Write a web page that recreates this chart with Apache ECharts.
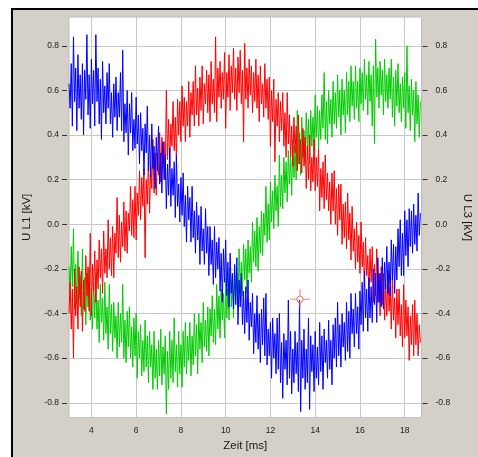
<!DOCTYPE html>
<html>
<head>
<meta charset="utf-8">
<script src="https://cdn.jsdelivr.net/npm/echarts@6/dist/echarts.min.js"></script>
<style>
  html, body { margin: 0; padding: 0; background: #fff; overflow: hidden; }
  #frame { position: absolute; left: 11px; top: 8px; width: 465px; height: 447px; border-left: 2px solid #000; border-top: 2px solid #000; background: #d4d0c8; }
  #chart { position: absolute; left: 0; top: 0; width: 478px; height: 457px; }
</style>
</head>
<body>
<div id="frame"></div>
<div id="chart"></div>
<script>
// one sample every 0.05 ms, first one at 3.0 ms
const startMs = 3.0
const stepMs = 0.05

const blueValues = [
  0.63, 0.52, 0.72, 0.44, 0.84, 0.55, 0.70, 0.42, 0.76, 0.52,
  0.67, 0.47, 0.72, 0.40, 0.69, 0.56, 0.85, 0.49, 0.67, 0.43,
  0.74, 0.54, 0.69, 0.44, 0.85, 0.55, 0.70, 0.45, 0.65, 0.38,
  0.73, 0.50, 0.62, 0.45, 0.68, 0.52, 0.72, 0.45, 0.59, 0.39,
  0.63, 0.48, 0.66, 0.42, 0.59, 0.48, 0.68, 0.42, 0.78, 0.37,
  0.54, 0.41, 0.60, 0.31, 0.54, 0.41, 0.59, 0.33, 0.47, 0.34,
  0.57, 0.36, 0.49, 0.27, 0.50, 0.33, 0.43, 0.22, 0.45, 0.32,
  0.53, 0.24, 0.40, 0.21, 0.45, 0.25, 0.35, 0.16, 0.39, 0.24,
  0.44, 0.18, 0.32, 0.14, 0.37, 0.20, 0.31, 0.07, 0.27, 0.13,
  0.34, 0.08, 0.25, 0.13, 0.28, 0.03, 0.31, 0.08, 0.18, 0.01,
  0.21, 0.04, 0.23, -0.01, 0.13, -0.08, 0.17, 0.02, 0.12, -0.08,
  0.17, -0.06, 0.06, -0.13, 0.10, -0.07, 0.04, -0.18, 0.08, -0.12,
  -0.02, -0.18, 0.07, -0.13, -0.01, -0.23, -0.01, -0.18, -0.07, -0.27,
  -0.01, -0.24, -0.08, -0.20, -0.06, -0.30, -0.13, -0.35, -0.11, -0.26,
  -0.07, -0.32, -0.17, -0.37, -0.13, -0.31, -0.22, -0.38, -0.18, -0.36,
  -0.15, -0.45, -0.25, -0.37, -0.22, -0.45, -0.30, -0.49, -0.28, -0.44,
  -0.25, -0.52, -0.35, -0.46, -0.31, -0.58, -0.40, -0.53, -0.32, -0.56,
  -0.40, -0.62, -0.38, -0.54, -0.33, -0.59, -0.31, -0.63, -0.47, -0.59,
  -0.44, -0.69, -0.42, -0.60, -0.49, -0.67, -0.42, -0.65, -0.40, -0.71,
  -0.53, -0.78, -0.49, -0.65, -0.52, -0.72, -0.34, -0.69, -0.48, -0.76,
  -0.56, -0.71, -0.48, -0.67, -0.53, -0.75, -0.34, -0.84, -0.52, -0.69,
  -0.47, -0.74, -0.56, -0.71, -0.42, -0.83, -0.50, -0.66, -0.54, -0.75,
  -0.48, -0.69, -0.55, -0.72, -0.44, -0.66, -0.50, -0.74, -0.47, -0.62,
  -0.52, -0.69, -0.43, -0.65, -0.52, -0.72, -0.45, -0.60, -0.42, -0.64,
  -0.35, -0.59, -0.45, -0.64, -0.40, -0.55, -0.44, -0.61, -0.35, -0.57,
  -0.39, -0.60, -0.31, -0.49, -0.38, -0.55, -0.31, -0.49, -0.37, -0.56,
  -0.30, -0.45, -0.26, -0.48, -0.21, -0.42, -0.29, -0.48, -0.24, -0.42,
  -0.28, -0.44, -0.20, -0.36, -0.22, -0.44, -0.15, -0.35, -0.22, -0.37,
  -0.15, -0.38, -0.17, -0.29, -0.10, -0.31, -0.17, -0.32, -0.07, -0.25,
  -0.09, -0.31, -0.10, -0.25, -0.02, -0.19, 0.02, -0.23, -0.04, -0.23,
  0.06, -0.14, 0.02, -0.19, 0.07, -0.10, 0.06, -0.13, 0.09, -0.09,
  0.04, -0.12, 0.14, -0.05, 0.05
]

const redValues = [
  -0.40, -0.26, -0.47, -0.29, -0.60, -0.20, -0.41, -0.28, -0.47, -0.19,
  -0.37, -0.21, -0.48, -0.25, -0.39, -0.14, -0.32, -0.19, -0.39, -0.04,
  -0.41, -0.18, -0.30, -0.12, -0.35, -0.16, -0.29, -0.07, -0.24, -0.11,
  -0.31, -0.03, -0.22, -0.11, -0.24, 0.02, -0.20, -0.06, -0.23, -0.01,
  -0.24, -0.04, -0.13, 0.12, -0.15, 0.04, -0.17, 0.01, -0.10, 0.10,
  -0.12, 0.06, -0.13, 0.05, -0.03, 0.17, -0.05, 0.11, -0.06, 0.17,
  -0.07, 0.14, 0.04, 0.24, 0.02, 0.21, 0.08, 0.25, -0.15, 0.20,
  0.09, 0.30, 0.05, 0.26, 0.16, 0.38, 0.14, 0.32, 0.13, 0.32,
  0.22, 0.41, 0.19, 0.39, 0.27, 0.37, 0.20, 0.60, 0.29, 0.47,
  0.26, 0.45, 0.35, 0.55, 0.33, 0.48, 0.28, 0.56, 0.40, 0.55,
  0.37, 0.62, 0.44, 0.57, 0.37, 0.55, 0.44, 0.64, 0.39, 0.59,
  0.49, 0.64, 0.44, 0.71, 0.49, 0.61, 0.44, 0.66, 0.51, 0.71,
  0.45, 0.63, 0.54, 0.69, 0.50, 0.67, 0.46, 0.73, 0.54, 0.65,
  0.50, 0.84, 0.46, 0.70, 0.57, 0.73, 0.52, 0.68, 0.56, 0.77,
  0.43, 0.68, 0.57, 0.76, 0.51, 0.71, 0.59, 0.79, 0.56, 0.70,
  0.51, 0.75, 0.59, 0.78, 0.54, 0.69, 0.37, 0.81, 0.56, 0.70,
  0.52, 0.74, 0.58, 0.71, 0.50, 0.68, 0.55, 0.74, 0.52, 0.67,
  0.46, 0.71, 0.54, 0.63, 0.48, 0.72, 0.52, 0.65, 0.47, 0.66,
  0.35, 0.60, 0.46, 0.65, 0.28, 0.56, 0.44, 0.59, 0.37, 0.55,
  0.42, 0.59, 0.35, 0.50, 0.30, 0.59, 0.36, 0.49, 0.30, 0.44,
  0.26, 0.48, 0.32, 0.44, 0.24, 0.49, 0.27, 0.38, 0.23, 0.43,
  0.26, 0.39, 0.16, 0.35, 0.20, 0.40, 0.15, 0.30, 0.19, 0.38,
  0.15, 0.30, 0.17, 0.34, 0.06, 0.25, 0.12, 0.28, 0.07, 0.31,
  0.11, 0.23, 0.06, 0.19, 0.00, 0.23, 0.06, 0.24, 0.00, 0.16,
  -0.05, 0.18, 0.02, 0.18, -0.09, 0.09, -0.06, 0.10, -0.11, 0.14,
  -0.07, 0.05, -0.16, 0.08, -0.12, -0.02, -0.20, 0.01, -0.17, -0.05,
  -0.22, 0.01, -0.19, -0.08, -0.28, -0.06, -0.23, -0.14, -0.32, -0.11,
  -0.26, -0.10, -0.35, -0.18, -0.32, -0.11, -0.35, -0.22, -0.41, -0.19,
  -0.36, -0.22, -0.43, -0.27, -0.41, -0.21, -0.39, -0.28, -0.47, -0.24,
  -0.43, -0.33, -0.51, -0.29, -0.45, -0.29, -0.50, -0.36, -0.55, -0.27,
  -0.51, -0.34, -0.50, -0.37, -0.61, -0.41, -0.54, -0.36, -0.59, -0.34,
  -0.54, -0.40, -0.59, -0.45, -0.53
]

const greenValues = [
  -0.19, -0.31, -0.10, -0.28, -0.02, -0.38, -0.18, -0.36, -0.12, -0.33,
  -0.23, -0.41, -0.11, -0.38, -0.24, -0.45, -0.22, -0.37, -0.20, -0.43,
  -0.29, -0.47, -0.26, -0.42, -0.22, -0.47, -0.34, -0.53, -0.27, -0.44,
  -0.33, -0.52, -0.26, -0.49, -0.37, -0.56, -0.27, -0.49, -0.36, -0.57,
  -0.35, -0.51, -0.41, -0.60, -0.35, -0.55, -0.40, -0.53, -0.27, -0.60,
  -0.43, -0.62, -0.39, -0.55, -0.37, -0.60, -0.46, -0.64, -0.42, -0.59,
  -0.40, -0.69, -0.48, -0.60, -0.45, -0.68, -0.52, -0.66, -0.43, -0.64,
  -0.50, -0.71, -0.48, -0.64, -0.54, -0.74, -0.48, -0.69, -0.56, -0.74,
  -0.52, -0.68, -0.47, -0.72, -0.55, -0.67, -0.50, -0.85, -0.57, -0.74,
  -0.48, -0.69, -0.52, -0.71, -0.42, -0.66, -0.54, -0.73, -0.48, -0.67,
  -0.54, -0.73, -0.48, -0.64, -0.44, -0.67, -0.50, -0.61, -0.44, -0.68,
  -0.50, -0.63, -0.40, -0.59, -0.45, -0.67, -0.40, -0.56, -0.44, -0.62,
  -0.35, -0.55, -0.43, -0.57, -0.37, -0.59, -0.38, -0.50, -0.32, -0.53,
  -0.38, -0.54, -0.27, -0.47, -0.32, -0.51, -0.29, -0.43, -0.31, -0.51,
  -0.24, -0.42, -0.29, -0.43, -0.19, -0.37, -0.24, -0.42, -0.19, -0.34,
  -0.22, -0.37, -0.11, -0.31, -0.17, -0.32, -0.09, -0.25, -0.11, -0.31,
  -0.07, -0.22, -0.10, -0.26, 0.01, -0.17, -0.03, -0.19, 0.03, -0.21,
  -0.01, -0.13, 0.06, -0.14, 0.05, -0.05, 0.17, -0.08, 0.09, -0.07,
  0.19, 0.01, 0.15, -0.02, 0.22, 0.06, 0.17, -0.01, 0.31, 0.08,
  0.22, 0.07, 0.30, 0.14, 0.28, 0.10, 0.33, 0.18, 0.30, 0.13,
  0.38, 0.21, 0.35, 0.20, 0.51, 0.27, 0.41, 0.22, 0.48, 0.30,
  0.42, 0.27, 0.50, 0.34, 0.47, 0.27, 0.51, 0.35, 0.48, 0.33,
  0.58, 0.39, 0.53, 0.34, 0.51, 0.38, 0.58, 0.43, 0.68, 0.38,
  0.55, 0.36, 0.60, 0.45, 0.56, 0.39, 0.64, 0.45, 0.59, 0.43,
  0.67, 0.48, 0.60, 0.40, 0.65, 0.49, 0.60, 0.41, 0.68, 0.49,
  0.64, 0.46, 0.71, 0.53, 0.64, 0.47, 0.71, 0.52, 0.64, 0.46,
  0.70, 0.54, 0.68, 0.51, 0.74, 0.56, 0.67, 0.49, 0.73, 0.55,
  0.67, 0.44, 0.71, 0.36, 0.83, 0.57, 0.70, 0.52, 0.73, 0.58,
  0.69, 0.49, 0.74, 0.55, 0.67, 0.52, 0.70, 0.56, 0.74, 0.48,
  0.66, 0.44, 0.69, 0.53, 0.72, 0.50, 0.63, 0.46, 0.66, 0.52,
  0.68, 0.43, 0.80, 0.50, 0.62, 0.42, 0.65, 0.49, 0.60, 0.37,
  0.64, 0.45, 0.58, 0.39, 0.55
]

const xTicks = [4, 6, 8, 10, 12, 14, 16, 18]
const yTicks = [-0.8, -0.6, -0.4, -0.2, 0, 0.2, 0.4, 0.6, 0.8]
const xRange = [3, 18.75]
const yRange = [-0.867, 0.929]
const cursorPoint = [13.32, -0.336]

const font = 'Liberation Sans'
const textColor = '#1a1a1a'

function toPoints(values) {
    return values.map((v, i) => [+(startMs + i * stepMs).toFixed(2), v])
}

function traceSeries(name, values, color, z) {
    return {
        name: name,
        type: 'line',
        data: toPoints(values),
        symbol: 'none',
        showSymbol: false,
        silent: true,
        z: z,
        lineStyle: { width: 1, color: color },
        itemStyle: { color: color }
    }
}

function yAxis(position, name, rotate, offset, margin, gap) {
    return {
        type: 'value',
        position: position,
        min: yRange[0],
        max: yRange[1],
        offset: offset,
        axisLine: { show: false },
        axisTick: { show: true, inside: false, length: 5, customValues: yTicks, lineStyle: { color: '#333' } },
        axisLabel: {
            customValues: yTicks,
            margin: margin,
            fontSize: 8.5,
            fontFamily: font,
            color: textColor,
            formatter: (v) => v.toFixed(1)
        },
        splitLine: { show: false },
        name: name,
        nameLocation: 'middle',
        nameRotate: rotate,
        nameGap: gap,
        nameTextStyle: { fontSize: 11.5, fontFamily: font, color: textColor }
    }
}

const gridLines = yTicks.map((v) => ({ yAxis: v })).concat(xTicks.map((v) => ({ xAxis: v })))

const chart = echarts.init(document.getElementById('chart'), null, { renderer: 'canvas' })

chart.setOption({
    animation: false,
    grid: {
        left: 69, right: 56.5, top: 17, bottom: 39.3,
        show: true,
        backgroundColor: '#fff',
        borderColor: '#bdbdbd',
        borderWidth: 1,
        outerBoundsMode: 'none'
    },
    xAxis: {
        type: 'value',
        min: xRange[0],
        max: xRange[1],
        axisLine: { show: false },
        axisTick: { show: true, length: 5, customValues: xTicks, lineStyle: { color: '#333' } },
        axisLabel: { customValues: xTicks, margin: 8, fontSize: 8.5, fontFamily: font, color: textColor },
        splitLine: { show: false },
        name: 'Zeit [ms]',
        nameLocation: 'middle',
        nameGap: 22,
        nameTextStyle: { fontSize: 11.5, fontFamily: font, color: textColor }
    },
    yAxis: [
        yAxis('left', 'U L1 [kV]', 90, 2, 8, 34),
        yAxis('right', 'U L3 [kV]', -90, 1, 13, 32)
    ],
    series: [
        {
            type: 'line',
            data: [],
            z: 1,
            markLine: {
                z: 1,
                silent: true,
                symbol: ['none', 'none'],
                label: { show: false },
                emphasis: { disabled: true },
                lineStyle: { color: '#c8c8c8', type: 'solid', width: 1 },
                data: gridLines
            }
        },
        traceSeries('green', greenValues, '#00cc00', 2),
        traceSeries('red', redValues, '#ff0000', 3),
        traceSeries('blue', blueValues, '#0000ff', 4),
        {
            type: 'scatter',
            data: [cursorPoint],
            z: 10,
            silent: true,
            symbol: 'path://M0,10L7,10M13,10L20,10M10,0L10,7M10,13L10,20M7,10A3,3,0,1,1,13,10A3,3,0,1,1,7,10',
            symbolSize: 20,
            itemStyle: { color: 'none', borderColor: '#e46a6a', borderWidth: 1.2 }
        }
    ]
})
</script>
</body>
</html>
